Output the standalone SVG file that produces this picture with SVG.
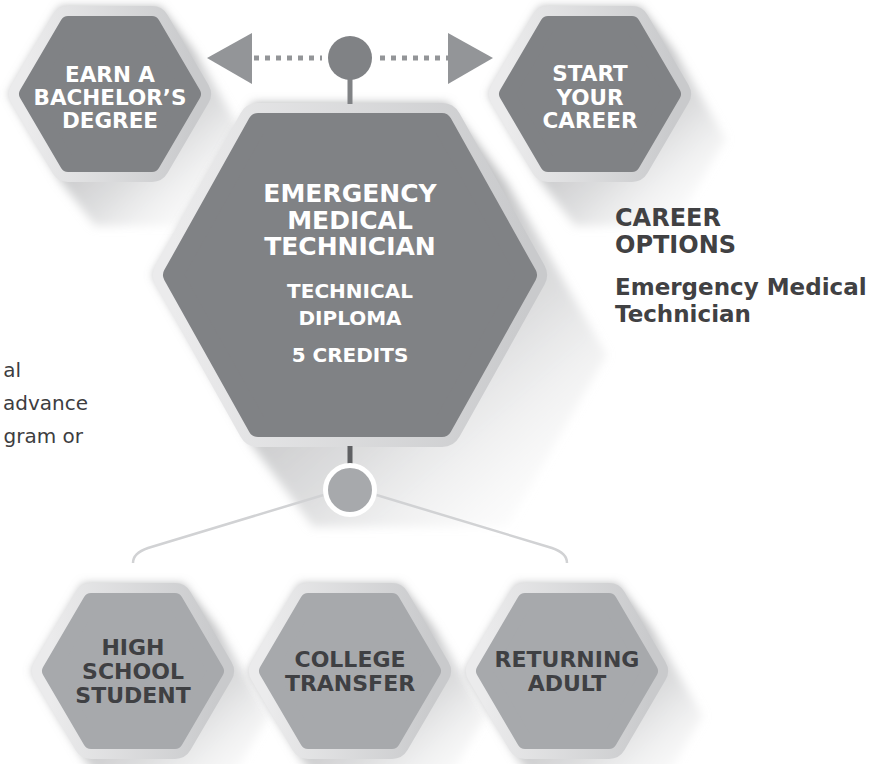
<svg xmlns="http://www.w3.org/2000/svg" xmlns:xlink="http://www.w3.org/1999/xlink" width="884" height="764" viewBox="0 0 884 764">
<style>
.lbl{font-family:"DejaVu Sans","Liberation Sans",sans-serif;font-weight:bold;text-anchor:middle}
.w{fill:#ffffff}
.dk{fill:#3f4043}
.side{font-family:"DejaVu Sans","Liberation Sans",sans-serif;font-weight:bold;fill:#414143}
.body{font-family:"DejaVu Sans","Liberation Sans",sans-serif;fill:#3d3d3f;font-size:20px;text-anchor:end}
.rim{stroke-linejoin:round}
</style>
<defs>
<linearGradient id="rimG" x1="0" y1="0" x2="1" y2="0">
<stop offset="0" stop-color="#ebebec"/>
<stop offset="1" stop-color="#c9cacc"/>
</linearGradient>
<linearGradient id="shG" x1="0.4" y1="0.35" x2="1" y2="1">
<stop offset="0" stop-color="#9a9b9d" stop-opacity="0.75"/>
<stop offset="0.45" stop-color="#bdbec0" stop-opacity="0.5"/>
<stop offset="1" stop-color="#ffffff" stop-opacity="0"/>
</linearGradient>
<filter id="blur" x="-20%" y="-20%" width="140%" height="140%">
<feGaussianBlur stdDeviation="5"/>
</filter>
<polygon id="hexS" points="-42,-70 42,-70 83,0 42,70 -42,70 -83,0"/>
<polygon id="shS" points="-50,-87 50,-87 85,-42 136,45 85,132 -15,132 -50,87 -101,0"/>
</defs>

<g id="node-bachelor">
<use xlink:href="#shS" x="110" y="94" fill="url(#shG)" filter="url(#blur)"/>
<use xlink:href="#hexS" x="110" y="94" class="rim" fill="url(#rimG)" stroke="url(#rimG)" stroke-width="36"/>
<use xlink:href="#hexS" x="110" y="94" class="rim" fill="#808285" stroke="#808285" stroke-width="16"/>
<text class="lbl w" font-size="21.5"><tspan x="110" y="82">EARN A</tspan><tspan x="110" y="105">BACHELOR’S</tspan><tspan x="110" y="128">DEGREE</tspan></text>
</g>

<g id="node-career">
<use xlink:href="#shS" x="590" y="94" fill="url(#shG)" filter="url(#blur)"/>
<use xlink:href="#hexS" x="590" y="94" class="rim" fill="url(#rimG)" stroke="url(#rimG)" stroke-width="36"/>
<use xlink:href="#hexS" x="590" y="94" class="rim" fill="#808285" stroke="#808285" stroke-width="16"/>
<text class="lbl w" font-size="21.5"><tspan x="590" y="81">START</tspan><tspan x="590" y="104.5">YOUR</tspan><tspan x="590" y="128">CAREER</tspan></text>
</g>

<g id="node-emt">
<polygon points="253,103 447,103 507,183 607,355 507,527 313,527 253,447 153,275" fill="url(#shG)" filter="url(#blur)"/>
<polygon class="rim" points="258,123 442,123 527,275 442,427 258,427 173,275" fill="url(#rimG)" stroke="url(#rimG)" stroke-width="40"/>
<polygon class="rim" points="258,123 442,123 527,275 442,427 258,427 173,275" fill="#808285" stroke="#808285" stroke-width="20"/>
<text class="lbl w" font-size="25"><tspan x="350" y="202">EMERGENCY</tspan><tspan x="350" y="228.5">MEDICAL</tspan><tspan x="350" y="255">TECHNICIAN</tspan></text>
<text class="lbl w" font-size="20"><tspan x="350" y="298">TECHNICAL</tspan><tspan x="350" y="325">DIPLOMA</tspan><tspan x="350" y="362">5 CREDITS</tspan></text>
</g>

<g id="node-highschool">
<use xlink:href="#shS" x="133" y="671" fill="url(#shG)" filter="url(#blur)"/>
<use xlink:href="#hexS" x="133" y="671" class="rim" fill="url(#rimG)" stroke="url(#rimG)" stroke-width="36"/>
<use xlink:href="#hexS" x="133" y="671" class="rim" fill="#a7a9ac" stroke="#a7a9ac" stroke-width="16"/>
<text class="lbl dk" font-size="22"><tspan x="133" y="655">HIGH</tspan><tspan x="133" y="679">SCHOOL</tspan><tspan x="133" y="703">STUDENT</tspan></text>
</g>

<g id="node-transfer">
<use xlink:href="#shS" x="350" y="671" fill="url(#shG)" filter="url(#blur)"/>
<use xlink:href="#hexS" x="350" y="671" class="rim" fill="url(#rimG)" stroke="url(#rimG)" stroke-width="36"/>
<use xlink:href="#hexS" x="350" y="671" class="rim" fill="#a7a9ac" stroke="#a7a9ac" stroke-width="16"/>
<text class="lbl dk" font-size="22"><tspan x="350" y="667">COLLEGE</tspan><tspan x="350" y="691">TRANSFER</tspan></text>
</g>

<g id="node-adult">
<use xlink:href="#shS" x="567" y="671" fill="url(#shG)" filter="url(#blur)"/>
<use xlink:href="#hexS" x="567" y="671" class="rim" fill="url(#rimG)" stroke="url(#rimG)" stroke-width="36"/>
<use xlink:href="#hexS" x="567" y="671" class="rim" fill="#a7a9ac" stroke="#a7a9ac" stroke-width="16"/>
<text class="lbl dk" font-size="22"><tspan x="567" y="667">RETURNING</tspan><tspan x="567" y="691">ADULT</tspan></text>
</g>

<g id="connectors">
<line x1="254" y1="58" x2="322" y2="58" stroke="#939598" stroke-width="5" stroke-dasharray="5 6"/>
<line x1="380" y1="58" x2="448" y2="58" stroke="#939598" stroke-width="5" stroke-dasharray="5 6"/>
<polygon points="207,58 252,33 252,84" fill="#939598"/>
<polygon points="493,58 448,33 448,84" fill="#939598"/>
<rect x="347.5" y="78" width="5" height="26" fill="#808285"/>
<circle cx="350" cy="58" r="22" fill="#808285"/>
<rect x="347.5" y="446" width="5" height="20" fill="#5f6063"/>
<path d="M350,487 L148,548 Q133,553 133,563" fill="none" stroke="#d1d2d4" stroke-width="2.5"/>
<path d="M350,487 L552,548 Q567,553 567,563" fill="none" stroke="#d1d2d4" stroke-width="2.5"/>
<circle cx="350" cy="490" r="24.5" fill="#a7a9ac" stroke="#ffffff" stroke-width="5"/>
</g>

<g id="career-options">
<text class="side" font-size="24"><tspan x="615" y="226">CAREER</tspan><tspan x="615" y="253">OPTIONS</tspan></text>
<text class="side" font-size="23"><tspan x="615" y="295">Emergency Medical</tspan><tspan x="615" y="322">Technician</tspan></text>
</g>

<g id="left-text">
<text class="body"><tspan x="21" y="377">al</tspan><tspan x="88" y="410">advance</tspan><tspan x="83" y="443">gram or</tspan></text>
</g>
</svg>
